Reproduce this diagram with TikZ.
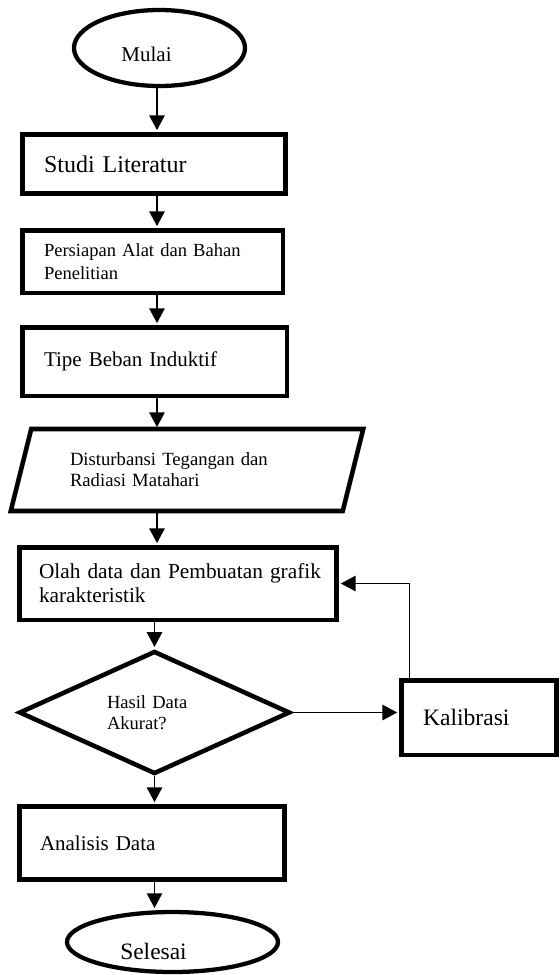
\documentclass[tikz,border=0pt]{standalone}
\usepackage{fontspec}
\setmainfont{Liberation Serif}
\usetikzlibrary{shapes.geometric,arrows.meta}
\begin{document}
\begin{tikzpicture}[x=0.75pt,y=-0.75pt,
  box/.style={draw, line width=3.4pt, rectangle, align=left, inner ysep=0pt},
  term/.style={draw, line width=3.2pt, ellipse, inner sep=0pt},
  arr/.style={line width=1.1pt, shorten >=1.4pt, -{Triangle[length=11pt,width=11.5pt]}},
  fb/.style={line width=1pt, shorten >=1.4pt, -{Triangle[length=11pt,width=11.5pt]}}]
\fill[white] (0,0) rectangle (560,975);
\useasboundingbox (0,0) rectangle (560,975);

\node[term, minimum width=128.25pt, minimum height=57pt,
  label={[font=\fontsize{15.75}{19}\selectfont, xshift=-9.75pt, yshift=-4.5pt]center:Mulai}] (start) at (159.5,48) {};

\node[box, minimum width=197.6pt, minimum height=44.6pt, text width=165pt, inner xsep=16.3pt,
  font=\fontsize{18}{21}\selectfont] (studi) at (154,164) {Studi Literatur};

\node[box, minimum width=195.4pt, minimum height=46.9pt, text width=162.75pt, inner xsep=16.3pt,
  font=\fontsize{13.9}{17.25}\selectfont] (prep) at (152.5,261.5) {\mbox{Persiapan Alat dan Bahan}\\Penelitian};

\node[box, minimum width=198.4pt, minimum height=51.4pt, text width=165.75pt, inner xsep=16.3pt,
  font=\fontsize{15.75}{19}\selectfont] (tipe) at (154.5,361.5) {Tipe Beban Induktif};

\node[rectangle, align=left, inner ysep=0pt, minimum width=264pt, minimum height=61.1pt, text width=175.5pt, inner xsep=44.25pt,
  font=\fontsize{14}{15.75}\selectfont] (dist) at (187,470) {\mbox{Disturbansi Tegangan dan}\\Radiasi Matahari};
\draw[line width=3.4pt] ([xshift=15.4pt]dist.north west) -- (dist.north east) -- ([xshift=-15.4pt]dist.south east) -- (dist.south west) -- cycle;

\node[box, minimum width=238.1pt, minimum height=54.4pt, text width=208.5pt, inner xsep=14.8pt,
  font=\fontsize{16}{18}\selectfont] (olah) at (178,583.5) {\mbox{Olah data dan Pembuatan grafik}\\karakteristik};

\node[draw, diamond, line width=3.4pt, aspect=2.2, inner sep=0pt, minimum width=203.25pt, minimum height=92.25pt,
  text width=71.25pt, align=left, font=\fontsize{13.9}{15.5}\selectfont] (dec) at (154.5,712.5) {Hasil Data\\Akurat?};

\node[box, minimum width=116.6pt, minimum height=55.9pt, text width=84pt, inner xsep=16.3pt,
  font=\fontsize{17.7}{21}\selectfont] (kal) at (479,717.5) {Kalibrasi};

\node[box, minimum width=199.1pt, minimum height=55.1pt, text width=168pt, inner xsep=15.55pt,
  font=\fontsize{15.75}{19}\selectfont] (ana) at (152,843) {Analisis Data};

\node[term, minimum width=158.25pt, minimum height=45pt,
  label={[font=\fontsize{17.6}{21}\selectfont, xshift=-14.25pt, yshift=-6.75pt]center:Selesai}] (end) at (172.5,942) {};

\coordinate (sp) at (157,0);
\draw[arr] (start.south -| sp) -- (studi.north -| sp);
\draw[arr] (studi.south -| sp) -- (prep.north -| sp);
\draw[arr] (prep.south -| sp) -- (tipe.north -| sp);
\draw[arr] (tipe.south -| sp) -- (dist.north -| sp);
\draw[arr] (dist.south -| sp) -- (olah.north -| sp);
\draw[arr] (olah.south -| dec.north) -- (dec.north);
\draw[arr] (dec.south) -- (dec.south |- ana.north);
\draw[arr] (ana.south -| dec.south) -- (end.north -| dec.south);
\draw[arr] (dec.east) -- (dec.east -| kal.west);
\draw[fb] ([xshift=7.9pt]kal.north west) |- (olah.east);
\end{tikzpicture}
\end{document}
